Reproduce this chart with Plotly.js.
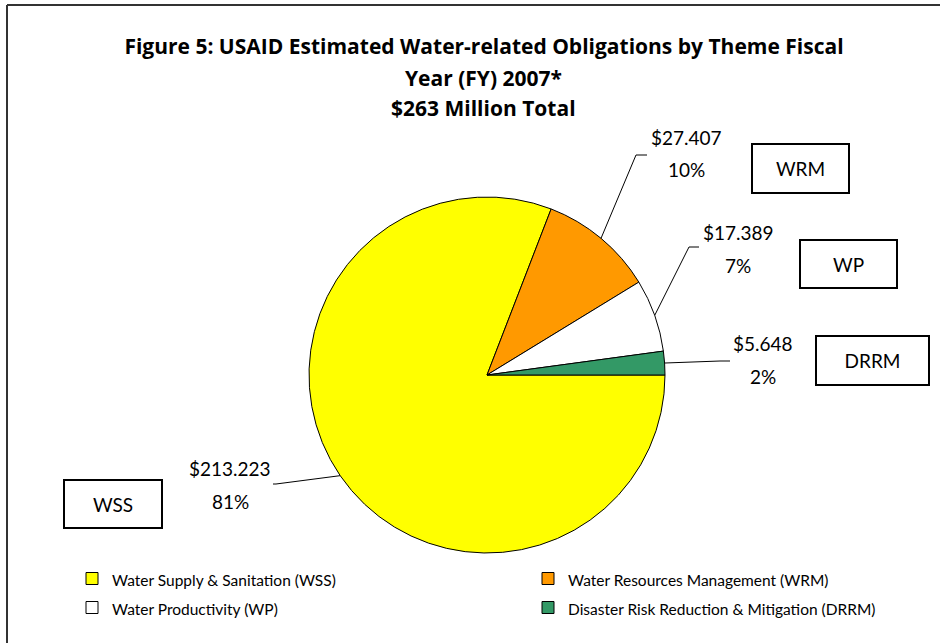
<!DOCTYPE html>
<html><head><meta charset="utf-8">
<script src="https://cdn.plot.ly/plotly-3.0.1.min.js"></script>
<style>html,body{margin:0;padding:0;background:#fff}#chart{width:940px;height:643px}</style>
</head><body><div id="chart"></div>
<script>
// ---- data ----
const categories = ['Water Supply & Sanitation (WSS)', 'Water Resources Management (WRM)', 'Water Productivity (WP)', 'Disaster Risk Reduction & Mitigation (DRRM)'];
const abbreviations = ['WSS', 'WRM', 'WP', 'DRRM'];
const values = [213.223, 27.407, 17.389, 5.648];
const titleLines = ['Figure 5: USAID Estimated Water-related Obligations by Theme Fiscal', 'Year (FY) 2007*', '$263 Million Total'];

// ---- styles / layout ----
const colors = ['#FFFF00', '#FF9900', '#FFFFFF', '#339966'];
const FONT = 'Lato, "Open Sans", sans-serif';
const TFONT = '"Open Sans", Lato, sans-serif';
const W = 940, H = 643;
const px = x => x / W, py = y => 1 - y / H;
const cx = 487, cy = 375, R = 178;
const valuePos = [[230, 468], [686, 137], [738, 232], [763, 343]];
const pctGap = 33;
const leaderElbow = [[276, 484], [636, 155], [689, 247], [720, 361]];
const leaderEnd = [[273, 484], [647, 155], [699, 247], [730, 361]];
const boxPos = [[113, 504, 98, 48], [800.5, 168.5, 97, 49], [848.5, 264, 97, 48], [872.5, 360.5, 113, 49]];
const titleY = [47, 78, 108];

const total = values.reduce((a, b) => a + b, 0);
const pcts = values.map(v => Math.round(v / total * 100));

const annotations = [];
const shapes = [];
let cum = 0;
values.forEach((v, i) => {
  const theta = (cum + v / 2) / total * 2 * Math.PI; // clockwise from 3 o'clock
  cum += v;
  const ex = cx + R * Math.cos(theta), ey = cy + R * Math.sin(theta);
  const [bx, by] = leaderElbow[i], [tx, ty] = leaderEnd[i];
  shapes.push({type: 'path', xref: 'paper', yref: 'paper',
    path: `M${px(ex)},${py(ey)} L${px(bx)},${py(by)} L${px(tx)},${py(ty)}`,
    line: {color: '#000', width: 1}});
  annotations.push({xref: 'paper', yref: 'paper', x: px(valuePos[i][0]), y: py(valuePos[i][1]),
    text: '$' + v.toFixed(3), showarrow: false, xanchor: 'center', yanchor: 'middle',
    font: {family: FONT, size: 19, color: '#000'}});
  annotations.push({xref: 'paper', yref: 'paper', x: px(valuePos[i][0]), y: py(valuePos[i][1] + pctGap),
    text: pcts[i] + '%', showarrow: false, xanchor: 'center', yanchor: 'middle',
    font: {family: FONT, size: 19, color: '#000'}});
  const [bxc, byc, bw, bh] = boxPos[i];
  annotations.push({xref: 'paper', yref: 'paper', x: px(bxc), y: py(byc),
    text: abbreviations[i], showarrow: false, xanchor: 'center', yanchor: 'middle',
    width: bw - 2, height: bh - 2, borderpad: 0, bordercolor: '#000', borderwidth: 2,
    font: {family: FONT, size: 19, color: '#000'}});
});
titleLines.slice(1).forEach((t, i) => {
  annotations.push({xref: 'paper', yref: 'paper', x: px(484), y: py(titleY[i + 1]),
    text: t, showarrow: false, xanchor: 'center', yanchor: 'middle',
    font: {family: TFONT, size: 21, color: '#000', weight: 700}});
});

// chart frame (left and top edges visible)
shapes.push({type: 'line', xref: 'paper', yref: 'paper', x0: px(7), x1: 1.02, y0: py(5), y1: py(5), line: {color: '#333', width: 2}});
shapes.push({type: 'line', xref: 'paper', yref: 'paper', x0: px(7), x1: px(7), y0: py(5), y1: -0.02, line: {color: '#333', width: 2}});

const trace = {
  type: 'pie',
  labels: categories.map(c => '<span style="font-size:15.5px">' + c + '</span>'),
  values: values,
  sort: false,
  direction: 'clockwise',
  rotation: 90,
  textinfo: 'none',
  hoverinfo: 'label+value+percent',
  marker: {colors: colors, line: {color: '#000', width: 1}},
  domain: {x: [px(cx - R), px(cx + R)], y: [py(cy + R), py(cy - R)]}
};

const layout = {
  width: W, height: H,
  margin: {l: 0, r: 0, t: 0, b: 0, autoexpand: false},
  paper_bgcolor: '#fff',
  title: {text: titleLines[0], x: px(484), xanchor: 'center', y: py(titleY[0]), yanchor: 'middle', yref: 'container',
    font: {family: TFONT, size: 21, color: '#000', weight: 700}},
  showlegend: true,
  legend: {orientation: 'h', x: px(72), xanchor: 'left', y: py(559), yanchor: 'top',
    entrywidth: 411, entrywidthmode: 'pixels', traceorder: 'normal',
    font: {family: FONT, size: 20, color: '#000'}, bgcolor: 'rgba(0,0,0,0)'},
  annotations: annotations,
  shapes: shapes
};

Plotly.newPlot('chart', [trace], layout, {displayModeBar: false, staticPlot: true});
</script>
</body></html>
